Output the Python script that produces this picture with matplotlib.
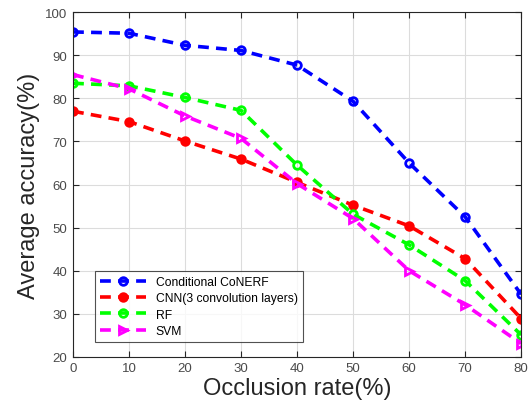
import matplotlib
matplotlib.use("Agg")
import matplotlib.pyplot as plt

occlusion = [0, 10, 20, 30, 40, 50, 60, 70, 80]
conerf = [95.4, 95.1, 92.3, 91.1, 87.7, 79.3, 65.0, 52.5, 34.5]
cnn = [77.0, 74.6, 70.1, 65.9, 60.5, 55.2, 50.4, 42.8, 28.9]
rf = [83.5, 82.9, 80.2, 77.2, 64.5, 53.1, 46.0, 37.7, 25.1]
svm = [85.5, 82.2, 75.9, 70.7, 60.2, 52.1, 40.0, 32.1, 23.1]
labels = ["Conditional CoNERF", "CNN(3 convolution layers)", "RF", "SVM"]

plt.rcParams['font.family'] = ['Liberation Sans', 'DejaVu Sans']

fig = plt.figure(figsize=(5.31, 4.10), dpi=100)
ax = fig.add_axes([0.1375, 0.127, 0.844, 0.841])

lw = 2.6
ms = 5.5
ax.plot(occlusion, conerf, '--', color='#0000ff', lw=lw, marker='o', ms=ms,
        mfc='none', mew=2.0, dashes=(3, 2), label=labels[0])
ax.plot(occlusion, cnn, '--', color='#ff0000', lw=lw, marker='o', ms=ms,
        mfc='#ff0000', mew=2.0, dashes=(3, 2), label=labels[1])
ax.plot(occlusion, rf, '--', color='#00ff00', lw=lw, marker='o', ms=ms,
        mfc='none', mew=2.0, dashes=(3, 2), label=labels[2])
ax.plot(occlusion, svm, '--', color='#ff00ff', lw=lw, marker='>', ms=6,
        mfc='none', mew=2.0, dashes=(3, 2), label=labels[3])

ax.set_xlim(0, 80)
ax.set_ylim(20, 100)
ax.set_xticks(range(0, 81, 10))
ax.set_yticks(range(20, 101, 10))
ax.grid(True, color='#dcdcdc', lw=0.8)
ax.set_axisbelow(True)
for s in ax.spines.values():
    s.set_color('#262626')
    s.set_linewidth(0.8)
ax.tick_params(direction='in', top=True, right=True, labelsize=9.5,
               colors='#262626', labelcolor='#4a4a4a', length=4, width=0.8, pad=4)
ax.set_xlabel("Occlusion rate(%)", fontsize=17, color='#262626', labelpad=2)
ax.set_ylabel("Average accuracy(%)", fontsize=17, color='#262626', labelpad=4)

leg = ax.legend(loc='lower left', bbox_to_anchor=(0.035, 0.025), fontsize=8.7,
                frameon=True, fancybox=False, edgecolor='#262626',
                handlelength=3.8, borderpad=0.45, labelspacing=0.35,
                handletextpad=0.8)
leg.get_frame().set_linewidth(0.8)

fig.savefig("out.png", dpi=100)
